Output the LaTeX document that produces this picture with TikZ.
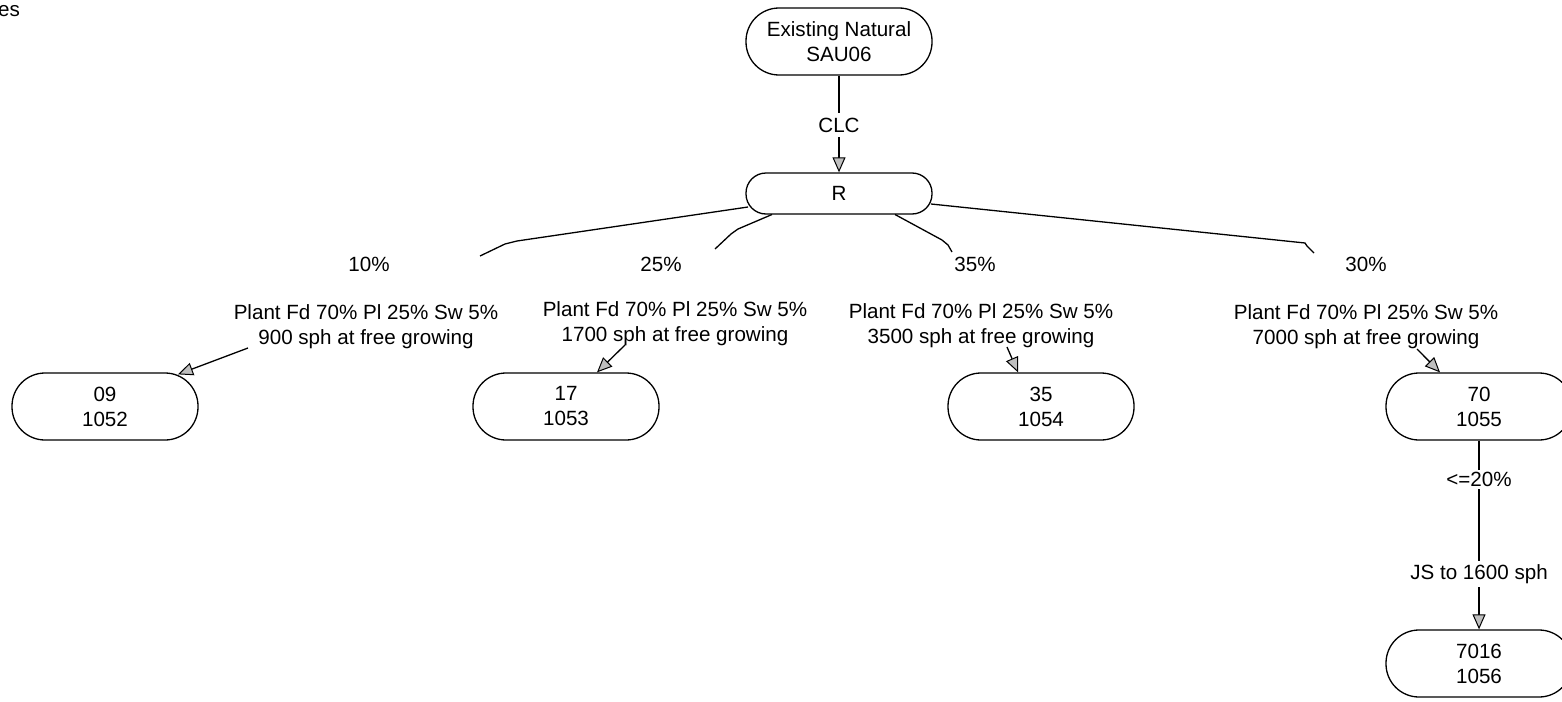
\documentclass[tikz,border=0pt]{standalone}
\usepackage{fontspec}
\setmainfont{Liberation Sans}
\usetikzlibrary{arrows.meta}

\begin{document}
\begin{tikzpicture}[x=1pt,y=-1pt,
  every node/.style={font=\fontsize{20.6}{25}\selectfont, align=center, inner sep=0pt},
  pill/.style={draw, line width=1.3pt, minimum width=186pt, minimum height=67pt, rounded corners=33pt},
  slimpill/.style={pill, minimum height=41pt, rounded corners=20pt},
  wire/.style={line width=1.3pt},
  arr/.style={wire, -{Triangle[length=15pt,width=13pt,fill=black!25,line width=1pt]}},
]
\useasboundingbox (0,0) rectangle (1562,701);

% clipped heading at the far left
\node[anchor=base west] (hdr) at (-2,17) {es};

% states
\node[pill] (top) at (839,41.5) {Existing Natural\\SAU06};
\node[slimpill] (r) at (839,193.5) {R};
\node[pill] (n09) at (105,406.5) {09\\1052};
\node[pill] (n17) at (566,406.5) {17\\1053};
\node[pill] (n35) at (1041,406.5) {35\\1054};
\node[pill] (n70) at (1479,406.5) {70\\1055};
\node[pill] (n7016) at (1479,663.5) {7016\\1056};

% transition labels
\node[minimum height=24pt] (clc) at (839,125) {CLC};
\node (p10) at (369,264) {10\%};
\node (p25) at (661,264) {25\%};
\node (p35) at (975,264) {35\%};
\node (p30) at (1366,264) {30\%};
\node (t09) at (366,327) {Plant Fd 70\% Pl 25\% Sw 5\%\\900 sph at free growing};
\node (t17) at (675,324) {Plant Fd 70\% Pl 25\% Sw 5\%\\1700 sph at free growing};
\node (t35) at (981,326) {Plant Fd 70\% Pl 25\% Sw 5\%\\3500 sph at free growing};
\node (t70) at (1366,327) {Plant Fd 70\% Pl 25\% Sw 5\%\\7000 sph at free growing};
\node[minimum height=19pt] (le20) at (1479,479.5) {<=20\%};
\node[minimum height=26pt] (js) at (1479,574) {JS to 1600 sph};

% free ends of the branch strokes
\coordinate (e10) at (480,256);
\coordinate (e25) at (715,249);
\coordinate (e35) at (952,252);
\coordinate (e30) at (1314,253);
\coordinate (a09) at (248,348);
\coordinate (a17) at (625,345);
\coordinate (a35) at (1007,347);
\coordinate (a70) at (1417,349);

% top of the tree
\draw[wire] (top.south) -- (clc.north);
\draw[arr] (clc.south) -- (r.north);

% branches out of R
\draw[wire] ([shift={(-91,13.5)}]r.center) -- (517,241) -- (505,244) -- (e10);
\draw[wire] ([shift={(-67,21)}]r.center) -- (738,229) -- (731,234) -- (e25);
\draw[wire] ([shift={(56,21)}]r.center) -- (942,240) -- (948,245) -- (e35);
\draw[wire] ([shift={(92,10.5)}]r.center) -- (1305,243) -- (1307,246) -- (e30);

% arrows into the planted states
\draw[arr] (a09) -- ([shift={(73,2)}]n09.north);
\draw[arr] (a17) -- ([shift={(31,0)}]n17.north);
\draw[arr] (a35) -- ([shift={(-23,0)}]n35.north);
\draw[arr] (a70) -- ([shift={(-39,0)}]n70.north);

% juvenile spacing branch
\draw[wire] (n70.south) -- (le20.north);
\draw[wire] (le20.south) -- (js.north);
\draw[arr] (js.south) -- (n7016.north);
\end{tikzpicture}
\end{document}
